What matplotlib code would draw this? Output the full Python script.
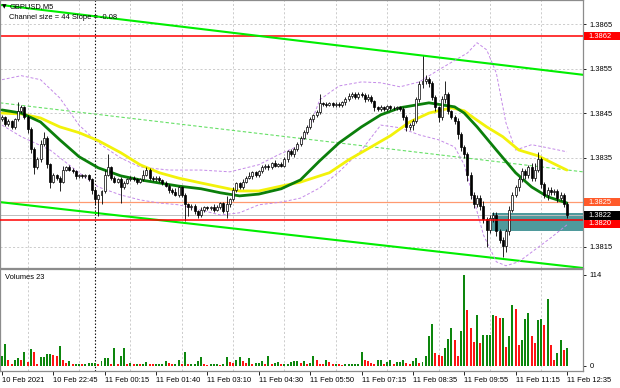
import numpy as np
import matplotlib
matplotlib.use("Agg")
import matplotlib.pyplot as plt
import matplotlib.transforms as mtransforms
from matplotlib.patches import Rectangle

plt.rcParams["font.family"] = ["Liberation Sans", "DejaVu Sans"]

# ── Data (GBPUSD M5) ─────────────────────────────────────────────────────
first_open = 1.38436
closes = [
    1.38441, 1.38425, 1.38432, 1.38418, 1.38436, 1.38454, 1.38463, 1.38441, 1.38415, 1.38369, 1.38328, 1.38346, 1.38380, 1.38395, 1.38335, 1.38296,
    1.38310, 1.38305, 1.38296, 1.38323, 1.38328, 1.38323, 1.38319, 1.38308, 1.38310, 1.38308, 1.38310, 1.38301, 1.38278, 1.38256, 1.38265, 1.38274,
    1.38312, 1.38328, 1.38305, 1.38296, 1.38301, 1.38283, 1.38294, 1.38301, 1.38305, 1.38301, 1.38296, 1.38301, 1.38312, 1.38323, 1.38305, 1.38301,
    1.38305, 1.38299, 1.38294, 1.38287, 1.38278, 1.38272, 1.38267, 1.38283, 1.38267, 1.38246, 1.38238, 1.38242, 1.38229, 1.38220, 1.38233, 1.38238,
    1.38236, 1.38238, 1.38233, 1.38240, 1.38247, 1.38229, 1.38246, 1.38256, 1.38278, 1.38292, 1.38283, 1.38296, 1.38305, 1.38308, 1.38317, 1.38310,
    1.38319, 1.38328, 1.38332, 1.38328, 1.38337, 1.38332, 1.38335, 1.38332, 1.38346, 1.38364, 1.38357, 1.38369, 1.38380, 1.38395, 1.38407, 1.38418,
    1.38436, 1.38445, 1.38452, 1.38472, 1.38470, 1.38468, 1.38472, 1.38468, 1.38470, 1.38468, 1.38474, 1.38481, 1.38488, 1.38492, 1.38486, 1.38492,
    1.38490, 1.38481, 1.38486, 1.38477, 1.38463, 1.38459, 1.38463, 1.38459, 1.38465, 1.38461, 1.38462, 1.38463, 1.38459, 1.38441, 1.38418, 1.38423,
    1.38432, 1.38481, 1.38515, 1.38522, 1.38526, 1.38517, 1.38486, 1.38463, 1.38441, 1.38481, 1.38492, 1.38454, 1.38441, 1.38432, 1.38402, 1.38373,
    1.38357, 1.38312, 1.38267, 1.38246, 1.38260, 1.38242, 1.38211, 1.38188, 1.38215, 1.38222, 1.38184, 1.38166, 1.38152, 1.38184, 1.38233, 1.38267,
    1.38283, 1.38301, 1.38319, 1.38310, 1.38328, 1.38305, 1.38323, 1.38346, 1.38290, 1.38265, 1.38278, 1.38272, 1.38274, 1.38260, 1.38267, 1.38246,
    1.38220,
]
# wick lengths beyond the body, in points (0.00001)
wick_up = [
    4, 3, 5, 3, 4, 20, 6, 3, 4, 3, 4, 5, 10, 12, 4, 3,
    5, 4, 3, 8, 4, 5, 3, 4, 3, 4, 3, 4, 3, 3, 4, 4,
    10, 29, 4, 3, 4, 5, 4, 3, 4, 3, 4, 3, 11, 5, 4, 3,
    4, 3, 4, 3, 4, 3, 10, 4, 3, 4, 3, 4, 3, 4, 5, 4,
    3, 4, 8, 4, 3, 4, 18, 4, 5, 4, 3, 5, 4, 10, 4, 3,
    4, 5, 3, 4, 4, 8, 3, 4, 5, 4, 6, 4, 5, 4, 6, 5,
    5, 4, 6, 20, 4, 5, 4, 3, 4, 5, 4, 6, 6, 6, 6, 6,
    5, 4, 6, 4, 3, 4, 5, 4, 3, 4, 3, 4, 3, 4, 5, 4,
    4, 6, 8, 56, 10, 6, 5, 4, 4, 8, 29, 5, 4, 5, 6, 5,
    5, 6, 5, 6, 5, 6, 10, 6, 5, 6, 5, 6, 5, 6, 8, 6,
    6, 5, 8, 5, 6, 10, 14, 16, 6, 5, 6, 5, 6, 5, 6, 4,
    4,
]
wick_dn = [
    4, 5, 3, 4, 3, 4, 3, 5, 10, 8, 15, 4, 5, 4, 8, 15,
    4, 5, 22, 4, 4, 3, 4, 5, 3, 4, 3, 4, 10, 12, 38, 20,
    4, 3, 5, 4, 4, 34, 4, 3, 4, 3, 5, 4, 4, 3, 5, 4,
    3, 4, 5, 4, 8, 4, 4, 5, 6, 38, 20, 5, 6, 5, 4, 5,
    4, 3, 5, 4, 6, 4, 14, 8, 4, 5, 4, 3, 4, 4, 5, 3,
    4, 3, 4, 5, 3, 4, 3, 4, 4, 5, 4, 5, 4, 5, 4, 5,
    4, 5, 4, 4, 5, 4, 3, 4, 5, 4, 4, 5, 4, 5, 4, 5,
    4, 5, 4, 5, 8, 5, 4, 5, 4, 4, 5, 4, 5, 6, 8, 6,
    10, 5, 6, 8, 6, 8, 6, 8, 10, 6, 8, 6, 5, 6, 10, 8,
    8, 15, 10, 10, 8, 10, 8, 38, 8, 10, 10, 8, 25, 15, 8, 6,
    6, 8, 6, 8, 6, 8, 8, 6, 8, 6, 10, 6, 6, 10, 6, 8,
    6,
]
volumes = [
    12, 27, 8, 3, 8, 10, 8, 18, 5, 21, 17, 3, 11, 11, 15, 15,
    14, 13, 25, 7, 4, 6, 3, 3, 3, 2, 2, 4, 4, 4, 2, 6,
    10, 10, 2, 23, 2, 13, 23, 2, 4, 3, 3, 2, 3, 5, 3, 2,
    2, 2, 2, 6, 4, 3, 3, 8, 2, 17, 2, 3, 3, 6, 11, 2,
    1, 2, 2, 2, 1, 3, 11, 5, 4, 8, 11, 6, 4, 10, 2, 4,
    4, 6, 3, 12, 2, 4, 5, 2, 2, 3, 5, 6, 6, 4, 6, 2,
    4, 12, 7, 3, 2, 7, 5, 3, 3, 2, 1, 2, 2, 2, 3, 3,
    17, 7, 6, 4, 2, 7, 7, 3, 5, 7, 2, 5, 5, 8, 4, 3,
    6, 10, 4, 5, 12, 38, 52, 16, 14, 12, 22, 34, 48, 32, 12, 44,
    114, 70, 47, 30, 64, 29, 39, 39, 39, 64, 63, 60, 60, 24, 37, 76,
    72, 26, 32, 59, 66, 37, 29, 58, 59, 51, 84, 26, 7, 16, 32, 20,
    23,
]

# indicator lines (bar index, price)
ma_fast_idx = [0, 6, 12, 18, 24, 30, 37, 43, 49, 55, 62, 68, 74, 80, 87, 93, 99, 105, 112, 118, 124, 133, 141, 144, 148, 154, 160, 165, 170, 173, 176]
ma_fast = [1.38457, 1.38450, 1.38430, 1.38390, 1.38352, 1.38327, 1.38309, 1.38300, 1.38293, 1.38286, 1.38280, 1.38271, 1.38264, 1.38268, 1.38280,
           1.38300, 1.38343, 1.38383, 1.38419, 1.38446, 1.38462, 1.38473, 1.38464, 1.38450, 1.38419, 1.38367, 1.38316, 1.38284, 1.38262, 1.38255, 1.38248]
ma_slow_idx = [0, 6, 12, 18, 24, 30, 37, 43, 49, 55, 62, 68, 74, 80, 87, 93, 102, 108, 115, 121, 127, 133, 140, 144, 147, 151, 156, 161, 167, 172, 176]
ma_slow = [1.38450, 1.38448, 1.38439, 1.38419, 1.38406, 1.38388, 1.38361, 1.38334, 1.38316, 1.38304, 1.38293, 1.38284, 1.38275, 1.38275, 1.38286,
           1.38295, 1.38316, 1.38345, 1.38374, 1.38399, 1.38430, 1.38450, 1.38462, 1.38455, 1.38439, 1.38419, 1.38397, 1.38367, 1.38354, 1.38336, 1.38322]
band_up_idx = [0, 6, 12, 18, 24, 30, 37, 43, 52, 62, 71, 80, 86, 93, 96, 99, 105, 112, 118, 124, 130, 136, 145, 148, 151, 154, 157, 160, 165, 170, 176]
band_up = [1.38525, 1.38534, 1.38525, 1.38484, 1.38423, 1.38383, 1.38349, 1.38329, 1.38322, 1.38322, 1.38318, 1.38334, 1.38356, 1.38378, 1.38423,
           1.38480, 1.38511, 1.38520, 1.38518, 1.38509, 1.38520, 1.38547, 1.38585, 1.38608, 1.38592, 1.38540, 1.38428, 1.38367, 1.38379, 1.38372, 1.38363]
band_lo_idx = [0, 6, 15, 24, 30, 37, 43, 49, 55, 62, 68, 74, 80, 87, 93, 99, 105, 112, 118, 124, 130, 136, 141, 144, 147, 150, 154, 157, 161, 166, 171, 176]
band_lo = [1.38423, 1.38397, 1.38367, 1.38316, 1.38284, 1.38266, 1.38255, 1.38248, 1.38244, 1.38232, 1.38221, 1.38226, 1.38244, 1.38250, 1.38259, 1.38282,
           1.38318, 1.38367, 1.38423, 1.38417, 1.38401, 1.38390, 1.38374, 1.38334, 1.38255, 1.38176, 1.38116, 1.38107, 1.38116, 1.38143, 1.38170, 1.38199]

channel_x = [-0.6, 181.0]
channel_top = [1.38693, 1.38536]
channel_mid = [1.38473, 1.38318]
channel_bot = [1.38250, 1.38102]

resist_level = 1.38623
support_level = 1.38210
orange_level = 1.3825
bid_price = 1.3822
zone_lo, zone_hi = 1.38185, 1.38226
zone_start = 152.5

price_ticks = [1.3815, 1.3825, 1.3835, 1.3845, 1.3855, 1.3865]
time_labels = ["10 Feb 2021", "10 Feb 22:45", "11 Feb 00:15", "11 Feb 01:40", "11 Feb 03:10", "11 Feb 04:30",
               "11 Feb 05:50", "11 Feb 07:15", "11 Feb 08:35", "11 Feb 09:55", "11 Feb 11:15", "11 Feb 12:35"]
label_step = 16
day_break = 29

# ── Style ────────────────────────────────────────────────────────────────
W, H = 620, 388
FRAME = "#8c8c8c"
GRID = "#c4c4c4"
LIME = "#00ee00"
MA_GREEN = "#0b7f0b"
MA_YELLOW = "#f2f20a"
BAND = "#c48ae8"
VOL_UP = "#0d860d"
VOL_DN = "#ff1414"
FS = 5.4

n = len(closes)
x = np.arange(n)
c = np.array(closes)
o = np.array([first_open] + closes[:-1])
hi = np.maximum(o, c) + np.array(wick_up) * 1e-5
lo = np.minimum(o, c) - np.array(wick_dn) * 1e-5

fig = plt.figure(figsize=(W / 100, H / 100), dpi=100, facecolor="white")
ax = fig.add_axes([0, 1 - 268 / H, 583 / W, 268 / H])
axv = fig.add_axes([0, 1 - 371 / H, 583 / W, 102 / H])

xlim = (-0.62, 181.0)
for a in (ax, axv):
    a.set_xlim(*xlim)
    a.set_facecolor("white")
    for s in a.spines.values():
        s.set_color(FRAME)
        s.set_linewidth(0.9)
    for k in range(8, n + 8, label_step):
        a.axvline(k, color=GRID, lw=0.6, ls=(0, (2.5, 2.5)), zorder=0)
    a.axvline(day_break, color="black", lw=0.8, ls=(0, (1.2, 1.8)), zorder=1)

# main pane
ylim = (1.38102, 1.38704)
ax.set_ylim(*ylim)
for p in price_ticks:
    ax.axhline(p, color=GRID, lw=0.6, ls=(0, (2.5, 2.5)), zorder=0)

ax.add_patch(Rectangle((zone_start, zone_lo), xlim[1] - zone_start, zone_hi - zone_lo,
                       facecolor="#4f9a9c", edgecolor="none", zorder=1))
ax.axhline(bid_price, color="#bdbdbd", lw=0.7, zorder=1)
ax.axhline(orange_level, color="#ff9a70", lw=0.9, zorder=2)
ax.axhline(resist_level, color="#ff0000", lw=1.1, zorder=2)

ax.plot(channel_x, channel_top, color=LIME, lw=1.5, zorder=2)
ax.plot(channel_x, channel_bot, color=LIME, lw=1.5, zorder=2)
ax.plot(channel_x, channel_mid, color="#66e066", lw=0.8, ls=(0, (3, 2)), zorder=2)

ax.plot(band_up_idx, band_up, color=BAND, lw=0.7, ls=(0, (3, 2)), zorder=2)
ax.plot(band_lo_idx, band_lo, color=BAND, lw=0.7, ls=(0, (3, 2)), zorder=2)
ax.plot(ma_slow_idx, ma_slow, color=MA_YELLOW, lw=2.0, zorder=3, solid_capstyle="round")
ax.plot(ma_fast_idx, ma_fast, color=MA_GREEN, lw=2.0, zorder=3, solid_capstyle="round")

# candles
ax.vlines(x, lo, hi, color="black", lw=0.6, zorder=4)
body_lo = np.minimum(o, c)
body_h = np.maximum(np.abs(c - o), 1.2e-5)
bull = c >= o
ax.bar(x[bull], body_h[bull], bottom=body_lo[bull], width=0.62, color="white",
       edgecolor="black", linewidth=0.5, zorder=5)
ax.bar(x[~bull], body_h[~bull], bottom=body_lo[~bull], width=0.62, color="black",
       edgecolor="black", linewidth=0.5, zorder=5)

ax.axhline(support_level, color="#ff0000", lw=1.1, zorder=6)

# right price scale (the 1.3825 tick label sits under the orange flag)
ax.yaxis.tick_right()
ax.set_yticks(price_ticks)
ax.set_yticklabels(["" if p == orange_level else f"{p:.4f}" for p in price_ticks])
ax.tick_params(axis="y", direction="out", length=2.5, width=0.6, pad=2, labelsize=FS, colors="black")
ax.tick_params(axis="x", length=0, labelbottom=False)

ax.text(0.004, 0.976, "▼", transform=ax.transAxes, fontsize=4.2, va="center", ha="left", family="DejaVu Sans")
ax.text(0.016, 0.976, "GBPUSD,M5", transform=ax.transAxes, fontsize=FS, va="center", ha="left")
ax.text(0.016, 0.935, "Channel size = 44 Slope = -0.08", transform=ax.transAxes, fontsize=FS,
        va="center", ha="left")

# price flags on the right scale
flag_tf = mtransforms.blended_transform_factory(ax.transAxes, ax.transData)
px_price = (ylim[1] - ylim[0]) / 268
flags = [(resist_level, "1.3862", "#ff0000"), (orange_level, "1.3825", "#ff5a2a"),
         (bid_price, "1.3822", "black"), (bid_price - 8.5 * px_price, "1.3820", "#ff0000")]
for yv, txt, col in flags:
    ax.add_patch(Rectangle((1.0015, yv - 4.3 * px_price), 0.062, 8.6 * px_price, transform=flag_tf,
                           facecolor=col, edgecolor="none", clip_on=False, zorder=9))
    ax.text(1.009, yv, txt, transform=flag_tf, fontsize=FS, color="white", va="center", ha="left",
            clip_on=False, zorder=10)

# volume pane
vols = np.array(volumes)
up = np.r_[True, vols[1:] >= vols[:-1]]
axv.bar(x[up], vols[up], width=0.62, color=VOL_UP, zorder=3)
axv.bar(x[~up], vols[~up], width=0.62, color=VOL_DN, zorder=3)
axv.set_ylim(-6.3, 121.5)
axv.yaxis.tick_right()
axv.set_yticks([0, 114])
axv.tick_params(axis="y", direction="out", length=2.5, width=0.6, pad=2, labelsize=FS)
axv.text(0.008, 0.95, f"Volumes {volumes[-1]}", transform=axv.transAxes, fontsize=FS, va="top", ha="left")

tick_pos = list(range(0, n, label_step))
axv.set_xticks(tick_pos)
axv.set_xticklabels(time_labels[:len(tick_pos)])
axv.tick_params(axis="x", direction="out", length=3, width=0.6, pad=1.5, labelsize=FS)
for lab in axv.get_xticklabels():
    lab.set_horizontalalignment("left")

fig.savefig("out.png", dpi=100, facecolor="white")
